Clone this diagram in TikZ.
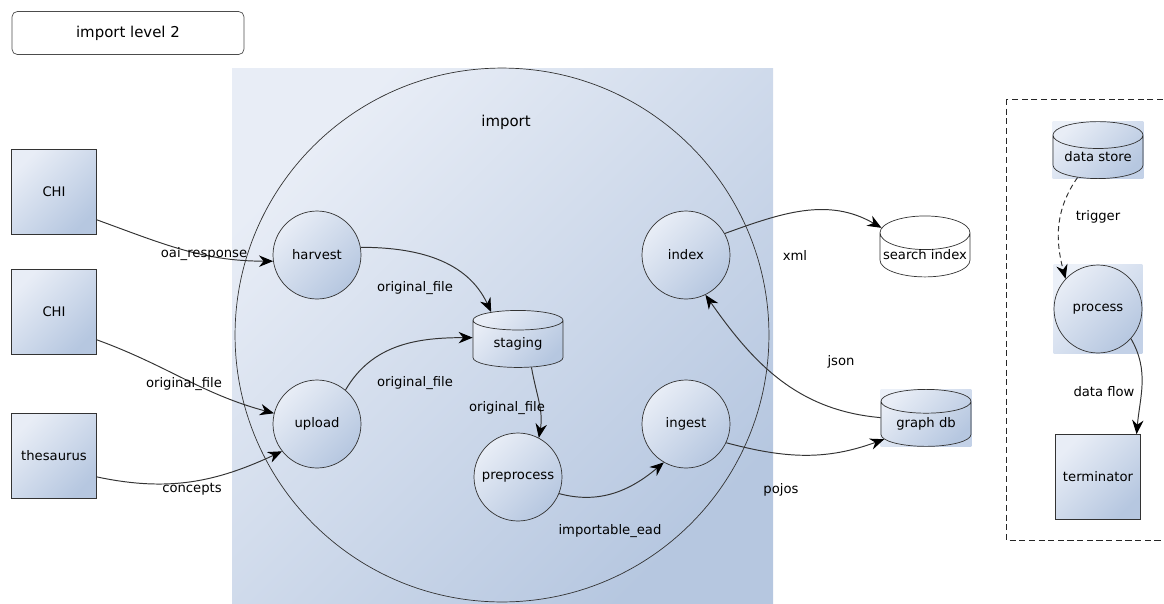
\documentclass[tikz,border=0pt]{standalone}
\usepackage{fontspec}
\setmainfont{DejaVu Sans}
\usetikzlibrary{shapes.geometric,arrows.meta,backgrounds}

\definecolor{lite}{HTML}{E8EDF6}
\definecolor{dark}{HTML}{B6C7E0}
\definecolor{sqlite}{HTML}{EBF0F8}
\definecolor{sqdark}{HTML}{C3D1E7}
\definecolor{linegray}{HTML}{333333}

\tikzset{
  shadebox/.style={top color=lite, bottom color=dark, shading angle=45},
  sqshade/.style={top color=sqlite, bottom color=sqdark, shading angle=45},
  txt/.style={font=\fontsize{7.5}{9}\selectfont},
  term/.style={rectangle, draw=black!80, shadebox, minimum size=1.7cm, inner sep=0pt, txt},
  proc/.style={circle, draw=black!80, shadebox, minimum size=1.76cm, inner sep=0pt, txt},
  store/.style={cylinder, shape border rotate=90, aspect=0.4, draw=black!80, shadebox,
    minimum width=1.8cm, minimum height=1.14cm, inner sep=0pt, txt},
  flow/.style={draw=linegray, line width=0.55pt, -{Stealth[length=8pt,width=6.5pt,black]}},
  lbl/.style={txt, inner sep=1pt}
}

\begin{document}
\begin{tikzpicture}[x=0.02cm,y=-0.02cm]
    \useasboundingbox (0,0) rectangle (1164,603);
    \clip (0,0) rectangle (1164,603);

    % the import process
    \shade[shadebox] (232,68) rectangle (773,610);
    \node[circle, draw=black!80, minimum size=10.68cm] (importcircle) at (502,335) {};
    \node[txt, font=\fontsize{8.5}{10}\selectfont] (importlbl) at (506,122) {import};

    \node[rectangle, rounded corners=3pt, draw=black!70, minimum width=4.64cm,
      minimum height=0.86cm, font=\fontsize{8.5}{10}\selectfont] (title) at (128,33) {import level 2};

    % sources
    \node[term] (chiA) at (54,192) {CHI};
    \node[term] (chiB) at (54,312) {CHI};
    \node[term] (thesaurus) at (54,456) {thesaurus};

    % processes and stores
    \node[proc] (harvest) at (317,255) {harvest};
    \node[proc] (upload) at (317,424) {upload};
    \node[store] (staging) at (518,344) {staging};
    \node[proc] (preprocess) at (518,477) {preprocess};
    \node[proc] (ingest) at (686,424) {ingest};
    \node[proc] (index) at (686,255) {index};
    \node[store, top color=white, bottom color=white] (searchindex) at (925,255) {search index};
    \node[store] (graphdb) at (926,424) {graph db};

    % legend
    \draw[black!85, dash pattern=on 3.5pt off 2pt] (1006,99) rectangle (1175,540);
    \node[store] (datastore) at (1098,157) {data store};
    \node[proc] (process) at (1098,309) {process};
    \node[term] (terminator) at (1098,477) {terminator};

    \begin{pgfonlayer}{background}
        \foreach \n in {harvest,upload,staging,preprocess,ingest,index,graphdb,datastore,process}
            \shade[sqshade] (\n.west |- \n.north) rectangle (\n.east |- \n.south);
    \end{pgfonlayer}

    % flows
    \draw[flow] (chiA.-33) to[out=-20, in=180] (harvest.188);
    \draw[flow] (chiB.-33) to[out=-20, in=165] (upload.166);
    \draw[flow] (thesaurus.-26) to[out=-12, in=205] (upload.218);
    \draw[flow] (harvest.10) to[out=0, in=115] (staging.130);
    \draw[flow] (upload.50) to[out=60, in=180] (staging.172);
    \draw[flow] (staging.-60) to[out=-80, in=80] (preprocess.62);
    \draw[flow] (preprocess.-22) to[out=-15, in=220] (ingest.240);
    \draw[flow] (ingest.-25) to[out=-15, in=200] (graphdb.200);
    \draw[flow] (graphdb.172) to[out=175, in=-55] (index.-64);
    \draw[flow] (index.29) to[out=20, in=150] (searchindex.148);
    \draw[flow, dash pattern=on 3pt off 2pt] (datastore.225) to[out=235, in=105] (process.137);
    \draw[flow] (process.-42) to[out=-60, in=85] (terminator.48);

    % flow labels
    \node[lbl] (oairesp) at (204,254) {oai\_response};
    \node[lbl] (origA) at (184,384) {original\_file};
    \node[lbl] (concepts) at (192,489) {concepts};
    \node[lbl] (origB) at (415,288) {original\_file};
    \node[lbl] (origC) at (415,383) {original\_file};
    \node[lbl] (origD) at (507,408) {original\_file};
    \node[lbl] (impead) at (610,531) {importable\_ead};
    \node[lbl] (pojos) at (781,490) {pojos};
    \node[lbl] (json) at (841,362) {json};
    \node[lbl] (xml) at (795,255) {xml};
    \node[lbl] (trigger) at (1098,217) {trigger};
    \node[lbl] (dataflow) at (1104,392) {data flow};
\end{tikzpicture}
\end{document}
